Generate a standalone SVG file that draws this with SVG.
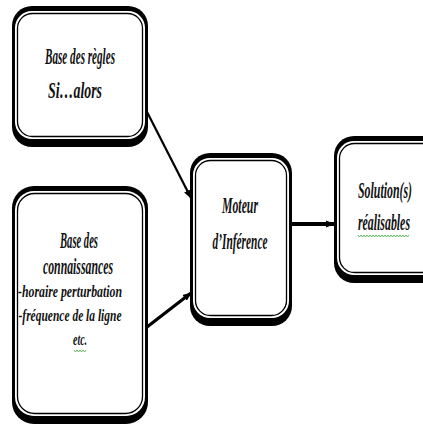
<svg xmlns="http://www.w3.org/2000/svg" width="423" height="430" viewBox="0 0 423 430">
<defs>
<style>
.o{fill:#000}
.w{fill:#fff}
.i{fill:none;stroke:#000;stroke-width:1.3}
.t{font-family:"Liberation Serif",serif;font-style:italic;font-weight:bold;fill:#111;text-anchor:middle}
.c{stroke:#000;fill:none}
.sq{fill:none;stroke:#4a4;stroke-width:0.8}
</style>
<marker id="ah2" viewBox="0 0 10 10" refX="9" refY="5" markerWidth="9" markerHeight="9" orient="auto" markerUnits="userSpaceOnUse">
<path d="M0,1 L10,5 L0,9 z" fill="#000"/>
</marker>
</defs>
<rect width="423" height="430" fill="#fff"/>
<g id="connectors">
<line class="c" x1="145" y1="108" x2="191" y2="198" stroke-width="2.2" marker-end="url(#ah2)"/>
<line class="c" x1="147" y1="327" x2="191" y2="293" stroke-width="3.2" marker-end="url(#ah2)"/>
<line class="c" x1="291" y1="224" x2="334" y2="224" stroke-width="4" marker-end="url(#ah2)"/>
</g>
<g id="regles">
<rect class="o" x="12" y="6" width="136" height="141" rx="20"/>
<rect class="w" x="15" y="11" width="130" height="128" rx="17"/>
<rect class="i" x="17.5" y="13.5" width="125" height="123" rx="15"/>
<text class="t" transform="translate(80,64) scale(0.5,1)" font-size="23" textLength="140" lengthAdjust="spacingAndGlyphs">Base des règles</text>
<text class="t" transform="translate(75,98) scale(0.5,1)" font-size="23" textLength="108" lengthAdjust="spacingAndGlyphs">Si…alors</text>
</g>
<g id="connaissances">
<rect class="o" x="12" y="186" width="136" height="238" rx="22"/>
<rect class="w" x="15" y="191" width="130" height="225" rx="19"/>
<rect class="i" x="17.5" y="193.5" width="125" height="220" rx="17"/>
<text class="t" transform="translate(79,248) scale(0.5,1)" font-size="23" textLength="76" lengthAdjust="spacingAndGlyphs">Base des</text>
<text class="t" transform="translate(78,274) scale(0.5,1)" font-size="23" textLength="140" lengthAdjust="spacingAndGlyphs">connaissances</text>
<text class="t" transform="translate(70,297) scale(0.5,1)" font-size="17" textLength="208" lengthAdjust="spacingAndGlyphs">-horaire perturbation</text>
<text class="t" transform="translate(70,321) scale(0.5,1)" font-size="17" textLength="206" lengthAdjust="spacingAndGlyphs">-fréquence de la ligne</text>
<text class="t" transform="translate(80,345) scale(0.5,1)" font-size="17" textLength="28" lengthAdjust="spacingAndGlyphs">etc.</text>
<path class="sq" d="M74,350 l1.5,2 l1.5,-2 l1.5,2 l1.5,-2 l1.5,2 l1.5,-2 l1.5,2 l1.5,-2"/>
</g>
<g id="moteur">
<rect class="o" x="190" y="153" width="102" height="173" rx="20"/>
<rect class="w" x="193" y="158" width="96" height="160" rx="17"/>
<rect class="i" x="195.5" y="160.5" width="91" height="155" rx="15"/>
<text class="t" transform="translate(240,213) scale(0.5,1)" font-size="23" textLength="72" lengthAdjust="spacingAndGlyphs">Moteur</text>
<text class="t" transform="translate(240,249) scale(0.5,1)" font-size="23" textLength="110" lengthAdjust="spacingAndGlyphs">d’Inférence</text>
</g>
<g id="solution">
<rect class="o" x="334" y="136" width="110" height="147" rx="20"/>
<rect class="w" x="337" y="141" width="104" height="134" rx="17"/>
<rect class="i" x="339.5" y="143.5" width="99" height="129" rx="15"/>
<text class="t" transform="translate(385,198) scale(0.5,1)" font-size="23" textLength="108" lengthAdjust="spacingAndGlyphs">Solution(s)</text>
<text class="t" transform="translate(384,230) scale(0.5,1)" font-size="23" textLength="104" lengthAdjust="spacingAndGlyphs">réalisables</text>
<path class="sq" d="M358,235 l1.5,2 l1.5,-2 l1.5,2 l1.5,-2 l1.5,2 l1.5,-2 l1.5,2 l1.5,-2 l1.5,2 l1.5,-2 l1.5,2 l1.5,-2 l1.5,2 l1.5,-2 l1.5,2 l1.5,-2 l1.5,2 l1.5,-2 l1.5,2 l1.5,-2 l1.5,2 l1.5,-2 l1.5,2 l1.5,-2 l1.5,2 l1.5,-2 l1.5,2 l1.5,-2 l1.5,2 l1.5,-2 l1.5,2 l1.5,-2 l1.5,2 l1.5,-2"/>
</g>
</svg>
